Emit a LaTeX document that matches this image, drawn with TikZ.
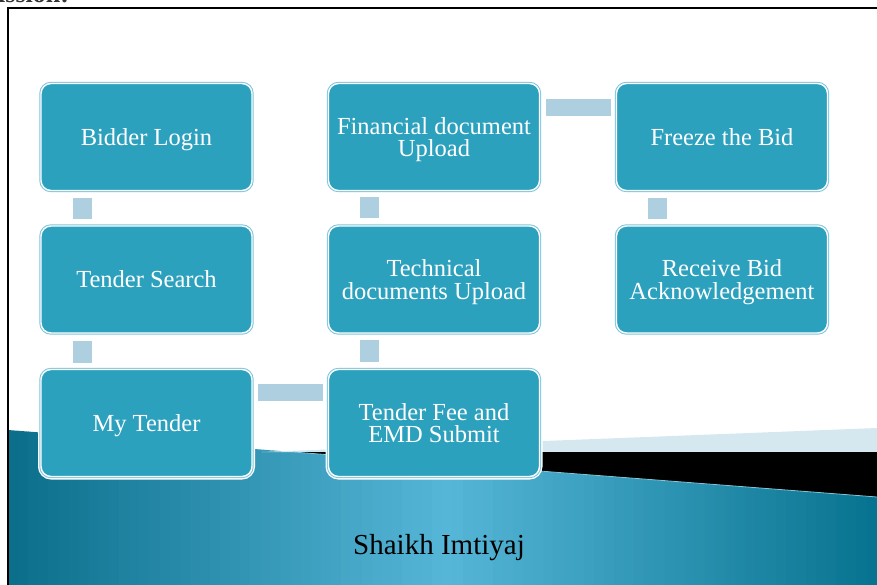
\documentclass[tikz,border=0pt]{standalone}
\usepackage{fontspec}
\setmainfont{Liberation Serif}
\usetikzlibrary{calc}
\definecolor{boxfill}{HTML}{2CA1BE}
\definecolor{boxline}{HTML}{7EC5D9}
\definecolor{connc}{HTML}{AECFDF}
\definecolor{wedgelight}{HTML}{D5E8F0}
\definecolor{tealdark}{HTML}{0B6F8B}
\definecolor{teallight}{HTML}{56B6D8}
\definecolor{tealright}{HTML}{06728E}
\begin{document}
\begin{tikzpicture}[x=1pt,y=-1pt,
  stepbox/.style={rectangle, rounded corners=10pt, minimum width=211pt, minimum height=107pt,
    inner sep=0pt, outer sep=0pt, fill=boxfill, draw=white, line width=1.4pt,
    preaction={draw=white, line width=6pt},
    preaction={draw=boxline, line width=3.4pt}},
  boxtext/.style={text=white, align=center, inner sep=0pt, yshift=-2.5pt,
    font=\fontsize{24.5}{22.5}\selectfont, execute at end node={\vphantom{gy}}},
  connv/.style={draw=connc, line width=19pt, line cap=butt, shorten <=7.5pt, shorten >=7pt},
  connh/.style={draw=connc, line width=17pt, line cap=butt, shorten <=6pt, shorten >=6pt}]
\useasboundingbox (0,0) rectangle (877,585);
% clipped title fragment
\begin{scope}
\clip (0,0) rectangle (877,585);
\node[anchor=base west, inner sep=0pt, font=\fontsize{26}{26}\selectfont\bfseries, text=black!80] (title) at (-2,3) {ission:};
\end{scope}
% background: teal band with horizontal gradient
\begin{scope}
\clip (8,430) -- (877,497) -- (877,585) -- (8,585) -- cycle;
\foreach \i in {0,...,86} {
  \pgfmathsetmacro{\xa}{8+\i*10.1}
  \ifnum\i<43
    \pgfmathtruncatemacro{\pct}{round(100*\i/43)}
    \fill[teallight!\pct!tealdark] (\xa,420) rectangle ++(10.6,170);
  \else
    \pgfmathtruncatemacro{\pct}{round(100*(86-\i)/43)}
    \fill[teallight!\pct!tealright] (\xa,420) rectangle ++(10.6,170);
  \fi
}
\end{scope}
\fill[wedgelight] (262,452) -- (877,428) -- (877,452) -- cycle;
\fill[black] (293,452) -- (877,452) -- (877,497) -- cycle;
\draw[line width=0.8pt, color=boxline] (293,452) -- (877,497);
% frame
\draw[line width=2pt] (8,585) -- (8,8) -- (877,8);
% boxes
\node[stepbox, label={[boxtext]center:Bidder Login}] (bl) at (146.5,137) {};
\node[stepbox, label={[boxtext]center:Tender Search}] (ts) at (146.5,279.5) {};
\node[stepbox, label={[boxtext]center:My Tender}] (mt) at (146.5,423) {};
\node[stepbox, label={[boxtext]center:{Tender Fee and\\EMD Submit}}] (tf) at (434,423) {};
\node[stepbox, label={[boxtext]center:{Technical\\documents Upload}}] (td) at (434,279.5) {};
\node[stepbox, label={[boxtext]center:{Financial document\\Upload}}] (fd) at (434,137) {};
\node[stepbox, label={[boxtext]center:Freeze the Bid}] (fb) at (722,137) {};
\node[stepbox, label={[boxtext]center:{Receive Bid\\Acknowledgement}}] (rb) at (722,279.5) {};
% connectors
\draw[connv] ($(bl.south west)+(41.5,0)$) -- ($(ts.north west)+(41.5,0)$);
\draw[connv] ($(ts.south west)+(41.5,0)$) -- ($(mt.north west)+(41.5,0)$);
\draw[connh] ($(mt.north east)+(0,23)$) -- ($(tf.north west)+(0,23)$);
\draw[connv] ($(tf.north west)+(41,0)$) -- ($(td.south west)+(41,0)$);
\draw[connv] ($(td.north west)+(41,0)$) -- ($(fd.south west)+(41,0)$);
\draw[connh, shorten <=6.5pt, shorten >=5.5pt] ($(fd.north east)+(0,24)$) -- ($(fb.north west)+(0,24)$);
\draw[connv] ($(fb.south west)+(41,0)$) -- ($(rb.north west)+(41,0)$);
% footer text
\node[anchor=base, inner sep=0pt, font=\fontsize{29}{29}\selectfont, text=black] (author) at (439,554) {Shaikh Imtiyaj};
\end{tikzpicture}
\end{document}
